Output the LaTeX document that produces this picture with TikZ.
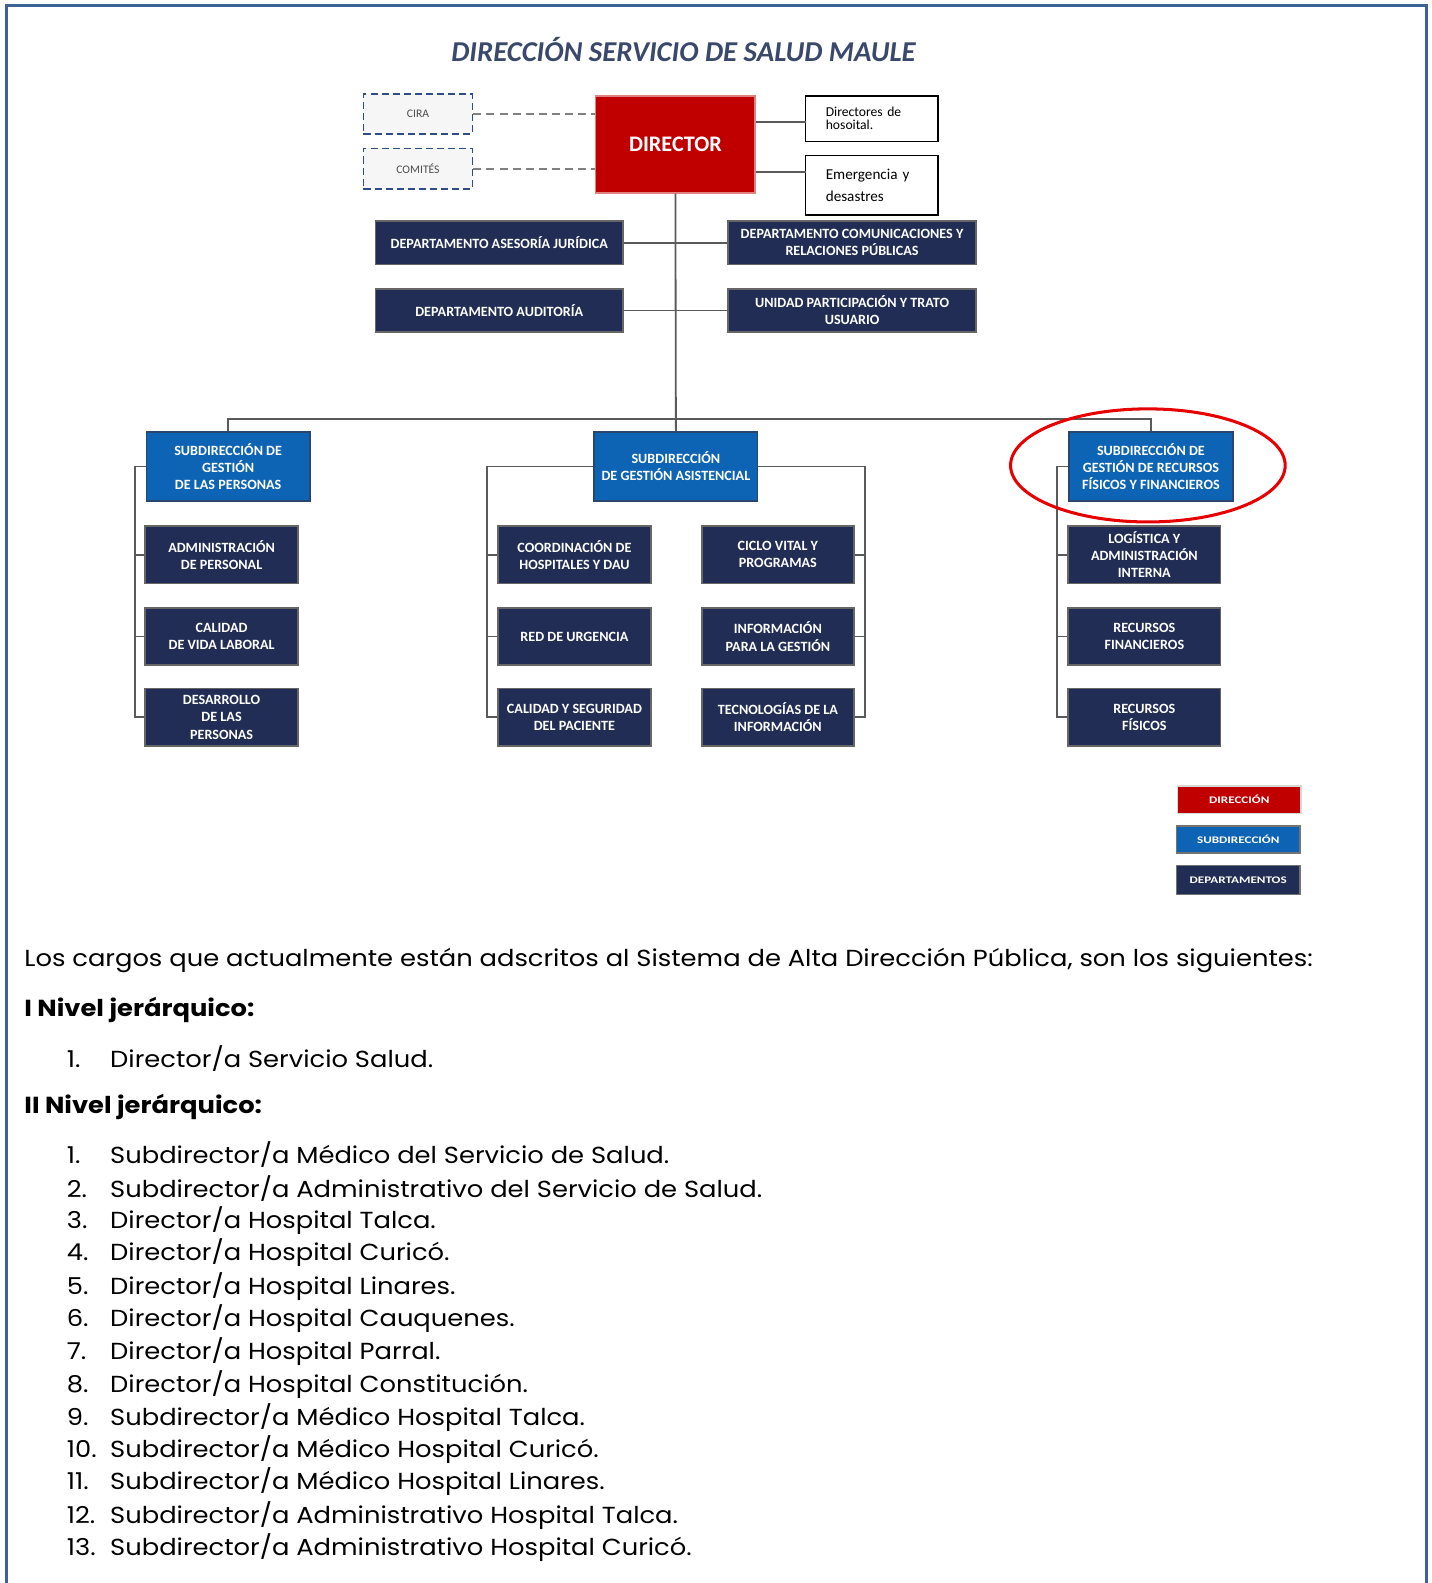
\documentclass[tikz,border=0pt]{standalone}
\usepackage{fontspec}
\setmainfont{Poppins}[FakeStretch=1.11]
\newfontfamily\chartfont{Carlito}
\newfontfamily\legendfont{Carlito}[FakeStretch=1.3]
\usetikzlibrary{calc}
\usetikzlibrary{shapes}

\definecolor{dirred}{RGB}{192,0,0}
\definecolor{subblue}{RGB}{14,100,180}
\definecolor{deptnavy}{RGB}{33,45,85}
\definecolor{frameblue}{RGB}{60,98,150}
\definecolor{titlegray}{RGB}{58,72,108}
\definecolor{ringred}{RGB}{230,0,0}
\definecolor{linegray}{RGB}{90,90,90}
\definecolor{dashblue}{RGB}{47,76,134}

\begin{document}
\begin{tikzpicture}[x=1pt, y=-1pt,
        title_style/.style={text=titlegray,font=\chartfont\fontsize{28.5}{30}\selectfont\bfseries\itshape},
        director_style/.style={rectangle,fill=dirred,draw={rgb,255:red,225;green,130;blue,130},line width=1.5pt,text=white,font=\chartfont\fontsize{22}{24}\selectfont\bfseries},
        comite_style/.style={rectangle,fill=gray!7,draw=dashblue,line width=1.6pt,dash pattern=on 7pt off 4pt,text=black!70,font=\chartfont\fontsize{11.5}{13}\selectfont,minimum width=108,minimum height=40},
        note_style/.style={rectangle,fill=white,draw=black,line width=1.4pt,align=left,text width=91,font=\chartfont\fontsize{13.5}{13}\selectfont,minimum width=131},
        sub_style/.style={rectangle,fill=subblue,draw={rgb,255:red,40;green,70;blue,110},line width=1.6pt,text=white,align=center,font=\chartfont\fontsize{14}{17}\selectfont\bfseries,minimum width=162,minimum height=68,inner sep=1pt},
        dept_style/.style={rectangle,fill=deptnavy,draw=black!60,line width=1.8pt,text=white,align=center,font=\chartfont\fontsize{14}{17}\selectfont\bfseries,minimum width=151,minimum height=57,inner sep=1pt},
        legend_style/.style={rectangle,draw=black!55,line width=1.4pt,text=white,font=\legendfont\fontsize{10}{11}\selectfont\bfseries,minimum width=122,minimum height=27},
        edge_style/.style={draw=linegray, line width=1.8pt},
        dash_edge_style/.style={draw=gray, line width=1.8pt, dash pattern=on 8pt off 5pt},
        ring_style/.style={draw=ringred, line width=3pt},
        text_style/.style={anchor=west,inner sep=0pt,font=\fontsize{23}{26}\selectfont},
        head_style/.style={anchor=west,inner sep=0pt,font=\fontsize{23}{26}\selectfont\bfseries}]

        \useasboundingbox (0,0) rectangle (1418,1568);

        \draw [draw=frameblue, line width=3pt] (6,1568) -- (6,5) -- (1413,5) -- (1413,1568);

        \node [title_style](titulo) at (677,49) {DIRECCIÓN SERVICIO DE SALUD MAULE};

        \node [director_style,minimum width=158,minimum height=96](director) at (669,143) {DIRECTOR};

        \node [comite_style](cira) at (414,113) {CIRA};

        \node [comite_style](comites) at (414,167) {COMITÉS};

        \node [note_style,minimum height=45](dir_hosp) at (863.5,117.5) {Directores de\\hosoital.};

        \node [note_style,minimum height=59,font=\chartfont\fontsize{15}{22}\selectfont](emergencia) at (863.5,183.5) {Emergencia y\\desastres};

        \node [dept_style,minimum width=245,minimum height=43](asesoria) at (494.5,240.5) {DEPARTAMENTO ASESORÍA JURÍDICA};

        \node [dept_style,minimum width=246,minimum height=43](comunicaciones) at (844,240.5) {DEPARTAMENTO COMUNICACIONES Y\\RELACIONES PÚBLICAS};

        \node [dept_style,minimum width=245,minimum height=43](auditoria) at (494.5,307.5) {DEPARTAMENTO AUDITORÍA};

        \node [dept_style,minimum width=246,minimum height=43](participacion) at (844,307.5) {UNIDAD PARTICIPACIÓN Y TRATO\\USUARIO};

        \node [sub_style](sub_personas) at (226,462) {SUBDIRECCIÓN DE\\GESTIÓN\\DE LAS PERSONAS};

        \node [sub_style](sub_asistencial) at (669.5,462) {SUBDIRECCIÓN\\DE GESTIÓN ASISTENCIAL};

        \node [sub_style](sub_recursos) at (1140,462) {SUBDIRECCIÓN DE\\GESTIÓN DE RECURSOS\\FÍSICOS Y FINANCIEROS};

        \node [dept_style](adm_personal) at (219.5,549.5) {ADMINISTRACIÓN\\DE PERSONAL};

        \node [dept_style](calidad_vida) at (219.5,630.5) {CALIDAD\\DE VIDA LABORAL};

        \node [dept_style](desarrollo) at (219.5,710.5) {DESARROLLO\\DE LAS\\PERSONAS};

        \node [dept_style](coord_hosp) at (569,549.5) {COORDINACIÓN DE\\HOSPITALES Y DAU};

        \node [dept_style](red_urgencia) at (569,630.5) {RED DE URGENCIA};

        \node [dept_style](calidad_seg) at (569,710.5) {CALIDAD Y SEGURIDAD\\DEL PACIENTE};

        \node [dept_style](ciclo_vital) at (770.5,549.5) {CICLO VITAL Y\\PROGRAMAS};

        \node [dept_style](info_gestion) at (770.5,630.5) {INFORMACIÓN\\PARA LA GESTIÓN};

        \node [dept_style](tecnologias) at (770.5,710.5) {TECNOLOGÍAS DE LA\\INFORMACIÓN};

        \node [dept_style](logistica) at (1133.5,549.5) {LOGÍSTICA Y\\ADMINISTRACIÓN\\INTERNA};

        \node [dept_style](rec_financieros) at (1133.5,630.5) {RECURSOS\\FINANCIEROS};

        \node [dept_style](rec_fisicos) at (1133.5,710.5) {RECURSOS\\FÍSICOS};

        \node [legend_style,fill=dirred,draw=white!85!black](ley_direccion) at (1227.5,792) {DIRECCIÓN};

        \node [legend_style,fill=subblue](ley_subdireccion) at (1226.5,831.5) {SUBDIRECCIÓN};

        \node [legend_style,fill=deptnavy,minimum height=29](ley_departamentos) at (1226.5,871.5) {DEPARTAMENTOS};

        \coordinate (hosp_tap) at (798,121);
        \coordinate (emerg_tap) at (798,170);
        \coordinate (bus) at (669.5,415);
        \coordinate (rail_personas) at (134,462);
        \coordinate (rail_asis_izq) at (482,462);
        \coordinate (rail_asis_der) at (857,462);
        \coordinate (rail_recursos) at (1047,462);

        \draw [dash_edge_style] (cira.east) -- (cira -| director.west);

        \draw [dash_edge_style] (comites.east) -- (comites -| director.west);

        \draw [edge_style] (director.east |- hosp_tap) -- (hosp_tap);

        \draw [edge_style] (director.east |- emerg_tap) -- (emerg_tap);

        \draw [edge_style] (director.south) -- (sub_asistencial.north);

        \draw [edge_style] (asesoria) -- (comunicaciones);

        \draw [edge_style] (auditoria) -- (participacion);

        \draw [edge_style] (sub_personas.north) |- (bus) -| (sub_recursos.north);

        \draw [edge_style] (sub_personas.west) -- (rail_personas) |- (adm_personal.west);

        \draw [edge_style] (rail_personas) |- (calidad_vida.west);

        \draw [edge_style] (rail_personas) |- (desarrollo.west);

        \draw [edge_style] (sub_asistencial.west) -- (rail_asis_izq) |- (coord_hosp.west);

        \draw [edge_style] (rail_asis_izq) |- (red_urgencia.west);

        \draw [edge_style] (rail_asis_izq) |- (calidad_seg.west);

        \draw [edge_style] (sub_asistencial.east) -- (rail_asis_der) |- (ciclo_vital.east);

        \draw [edge_style] (rail_asis_der) |- (info_gestion.east);

        \draw [edge_style] (rail_asis_der) |- (tecnologias.east);

        \draw [edge_style] (sub_recursos.west) -- (rail_recursos) |- (logistica.west);

        \draw [edge_style] (rail_recursos) |- (rec_financieros.west);

        \draw [edge_style] (rail_recursos) |- (rec_fisicos.west);

        \draw [ring_style] (1137,461) ellipse [x radius=136, y radius=56];

        \node [text_style](intro) at (24,951) {Los cargos que actualmente están adscritos al Sistema de Alta Dirección Pública, son los siguientes:};

        \node [head_style](nivel_i) at (24,1000) {I Nivel jerárquico:};

        \node [text_style](i_1) at (66,1048) {\makebox[43pt][l]{1.}Director/a Servicio Salud.};

        \node [head_style](nivel_ii) at (24,1096) {II Nivel jerárquico:};

        \node [text_style](ii_1) at (66,1144) {\makebox[43pt][l]{1.}Subdirector/a Médico del Servicio de Salud.};

        \node [text_style](ii_2) at (66,1177) {\makebox[43pt][l]{2.}Subdirector/a Administrativo del Servicio de Salud.};

        \node [text_style](ii_3) at (66,1209) {\makebox[43pt][l]{3.}Director/a Hospital Talca.};

        \node [text_style](ii_4) at (66,1241) {\makebox[43pt][l]{4.}Director/a Hospital Curicó.};

        \node [text_style](ii_5) at (66,1274) {\makebox[43pt][l]{5.}Director/a Hospital Linares.};

        \node [text_style](ii_6) at (66,1306) {\makebox[43pt][l]{6.}Director/a Hospital Cauquenes.};

        \node [text_style](ii_7) at (66,1339) {\makebox[43pt][l]{7.}Director/a Hospital Parral.};

        \node [text_style](ii_8) at (66,1371) {\makebox[43pt][l]{8.}Director/a Hospital Constitución.};

        \node [text_style](ii_9) at (66,1404) {\makebox[43pt][l]{9.}Subdirector/a Médico Hospital Talca.};

        \node [text_style](ii_10) at (66,1436) {\makebox[43pt][l]{10.}Subdirector/a Médico Hospital Curicó.};

        \node [text_style](ii_11) at (66,1468) {\makebox[43pt][l]{11.}Subdirector/a Médico Hospital Linares.};

        \node [text_style](ii_12) at (66,1501) {\makebox[43pt][l]{12.}Subdirector/a Administrativo Hospital Talca.};

        \node [text_style](ii_13) at (66,1533) {\makebox[43pt][l]{13.}Subdirector/a Administrativo Hospital Curicó.};

        \end{tikzpicture}
\end{document}
